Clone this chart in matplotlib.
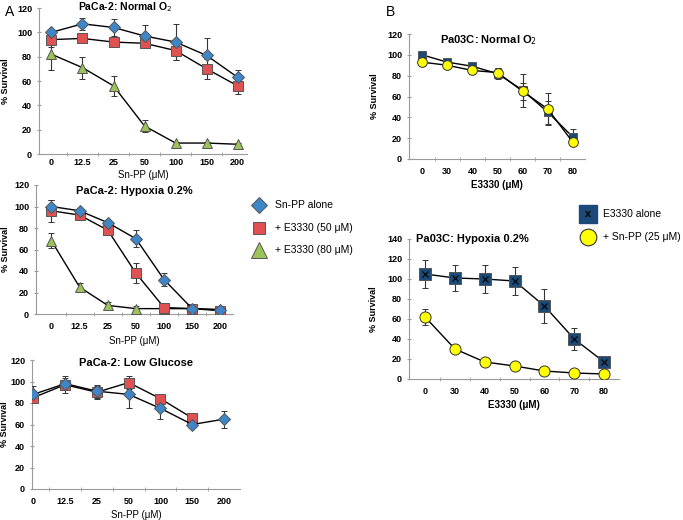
import matplotlib
matplotlib.use("Agg")
import matplotlib.pyplot as plt
import numpy as np

plt.rcParams['font.family'] = ['Liberation Sans', 'DejaVu Sans']

snpp_labels = ["0", "12.5", "25", "50", "100", "150", "200"]
e3330_labels = ["0", "30", "40", "50", "60", "70", "80"]

# PaCa-2 Normal O2
a1_snpp = [100, 107, 104, 97, 92, 81, 63]
a1_snpp_err = [2, 5, 7, 9, 15, 14, 6]
a1_e50 = [94, 95, 92, 91, 85, 70, 56]
a1_e50_err = [6, 2, 2, 2, 8, 8, 7]
a1_e80 = [82, 71, 56, 23, 9, 9, 8]
a1_e80_err = [13, 9, 8, 5, 1, 1, 1]

# PaCa-2 Hypoxia
a2_snpp = [100, 96, 85, 70, 32, 5, 4]
a2_snpp_err = [6, 2, 2, 8, 6, 1, 1]
a2_e50 = [96, 92, 78, 38, 6, 5, 3]
a2_e50_err = [10, 3, 3, 9, 2, 1, 1]
a2_e80 = [68, 25, 8, 5, 5, 5, 4]
a2_e80_err = [7, 4, 3, 2, 1, 1, 1]

# PaCa-2 Low glucose
a3_snpp = [88, 98, 91, 88, 75, 60, 65]
a3_snpp_err = [8, 5, 6, 13, 10, 2, 8]
a3_e50 = [85, 97, 90, 99, 84, 66, np.nan]
a3_e50_err = [5, 8, 6, 6, 2, 2, 0]

# Pa03C Normal O2
b1_e = [100, 93, 89, 82, 66, 45, 21]
b1_e_err = [2, 2, 3, 5, 16, 11, 8]
b1_s = [93, 90, 85, 83, 65, 48, 16]
b1_s_err = [4, 3, 3, 4, 8, 15, 3]

# Pa03C Hypoxia
b2_e = [105, 101, 100, 98, 73, 40, 17]
b2_e_err = [14, 13, 14, 14, 17, 11, 3]
b2_s = [62, 30, 17, 13, 8, 6, 5]
b2_s_err = [8, 2, 1, 2, 1, 1, 1]

W, H = 683, 520
fig = plt.figure(figsize=(W / 100, H / 100), dpi=100)

def make_ax(left, right, top, bottom):
    return fig.add_axes([left / W, 1 - bottom / H, (right - left) / W, (bottom - top) / H])

BLUE = '#3f86c8'
RED = '#e05151'
GREEN = '#9cc35a'
NAVY = '#1b4a78'
YEL = '#ffff00'
AXC = '#9a9a9a'

def style(ax, labels, xlim, ylim, ystep, xlabel=None, title=None, title_y=None, xpad=6):
    x = np.arange(len(labels))
    ax.set_xlim(*xlim)
    ax.set_ylim(*ylim)
    ax.set_xticks(x)
    ax.set_xticklabels(labels, fontsize=6.5, fontweight='bold')
    ax.set_xticks(np.arange(len(labels) - 1) + 0.5, minor=True)
    ax.set_yticks(np.arange(ylim[0], ylim[1] + 1, ystep))
    ax.tick_params(axis='y', labelsize=6.5, length=3, color=AXC, direction='inout')
    for lab in ax.get_yticklabels():
        lab.set_fontweight('bold')
    ax.tick_params(axis='x', which='major', length=0, pad=xpad)
    ax.tick_params(axis='x', which='minor', length=3, color=AXC, direction='inout')
    for s in ['top', 'right']:
        ax.spines[s].set_visible(False)
    for s in ['left', 'bottom']:
        ax.spines[s].set_color(AXC)
        ax.spines[s].set_linewidth(0.8)
    ax.set_ylabel('% Survival', fontsize=6.5, fontweight='bold', labelpad=4)
    if xlabel:
        ax.set_xlabel(xlabel[0], fontsize=7, fontweight=xlabel[1], labelpad=3)
    if title:
        ax.text(0.5, title_y, title, transform=ax.transAxes, ha='center', va='center',
                fontsize=8, fontweight='bold')
    ax.patch.set_alpha(0)

def series(ax, y, err, marker, color, ms, mec='#555555'):
    x = np.arange(len(y))
    ax.errorbar(x, y, yerr=err, color='black', lw=1.0, ecolor='#333333', elinewidth=0.8,
                capsize=2, capthick=0.8, marker=marker, ms=ms, mfc=color, mec=mec, mew=0.7,
                zorder=3)

# A1
ax1 = make_ax(39, 247, 8, 154)
series(ax1, a1_e80, a1_e80_err, '^', GREEN, 7)
series(ax1, a1_e50, a1_e50_err, 's', RED, 7)
series(ax1, a1_snpp, a1_snpp_err, 'D', BLUE, 6)
style(ax1, snpp_labels, (-0.4, 6.3), (0, 120), 20, xpad=3)
fig.text(125 / W, 1 - 7 / H, 'PaCa-2: Normal O$_2$', ha='center', va='center',
         fontsize=7.5, fontweight='bold')
fig.text(143 / W, 1 - 175 / H, 'Sn-PP (μM)', ha='center', va='center', fontsize=7)
ax1.yaxis.set_label_coords(-0.14, 0.5)

# A2
ax2 = make_ax(36, 233, 185, 314)
series(ax2, a2_e80, a2_e80_err, '^', GREEN, 7)
series(ax2, a2_e50, a2_e50_err, 's', RED, 7)
series(ax2, a2_snpp, a2_snpp_err, 'D', BLUE, 6)
style(ax2, snpp_labels, (-0.55, 6.45), (0, 120), 20, xlabel=('Sn-PP (μM)', 'normal'),
      title='PaCa-2: Hypoxia 0.2%', title_y=0.95)
ax2.yaxis.set_label_coords(-0.13, 0.5)

# A3
ax3 = make_ax(32, 240, 360, 489)
series(ax3, a3_e50, a3_e50_err, 's', RED, 7)
series(ax3, a3_snpp, a3_snpp_err, 'D', BLUE, 6)
style(ax3, snpp_labels, (-0.04, 6.5), (0, 120), 20, xlabel=('Sn-PP (μM)', 'normal'),
      title='PaCa-2: Low Glucose', title_y=0.98)
ax3.yaxis.set_label_coords(-0.11, 0.5)

# B1
ax4 = make_ax(409, 585, 34, 159)
series(ax4, b1_e, b1_e_err, 's', NAVY, 6)
series(ax4, b1_s, b1_s_err, 'o', YEL, 7, mec='#333333')
style(ax4, e3330_labels, (-0.52, 6.48), (0, 120), 20, xlabel=('E3330 (μM)', 'bold'))
ax4.text(0.45, 0.95, 'Pa03C: Normal O$_2$', transform=ax4.transAxes, ha='center', va='center',
         fontsize=8, fontweight='bold')
ax4.yaxis.set_label_coords(-0.17, 0.5)

# B2
ax5 = make_ax(409, 619, 239, 379)
series(ax5, b2_e, b2_e_err, 's', NAVY, 8)
ax5.plot(np.arange(len(b2_e)), b2_e, ls='none', marker='x', ms=4, mec='black', mew=0.8, zorder=4)
series(ax5, b2_s, b2_s_err, 'o', YEL, 8, mec='#333333')
style(ax5, e3330_labels, (-0.54, 6.5), (0, 140), 20, xlabel=('E3330 (μM)', 'bold'))
ax5.text(0.3, 1.0, 'Pa03C: Hypoxia 0.2%', transform=ax5.transAxes, ha='center', va='center',
         fontsize=8, fontweight='bold')
ax5.yaxis.set_label_coords(-0.15, 0.5)

# Legend A
lx, tx = 259 / W, 275 / W
for yy, mk, col, ms, txt in [(205, 'D', BLUE, 8, 'Sn-PP alone'),
                             (228, 's', RED, 9, '+ E3330 (50 μM)'),
                             (250, '^', GREEN, 11, '+ E3330 (80 μM)')]:
    fig.lines.append(matplotlib.lines.Line2D([lx], [1 - yy / H], marker=mk, ms=ms, mfc=col,
                                             mec='#555555', mew=0.7, ls='none',
                                             transform=fig.transFigure))
    fig.text(tx, 1 - yy / H, txt, fontsize=7.5, va='center', ha='left')

# Legend B
bx, btx = 588 / W, 603 / W
fig.lines.append(matplotlib.lines.Line2D([bx], [1 - 214 / H], marker='s', ms=13, mfc=NAVY,
                                         mec=NAVY, ls='none', transform=fig.transFigure))
fig.text(bx, 1 - 214 / H, 'x', fontsize=8, fontweight='bold', ha='center', va='center')
fig.text(btx, 1 - 214 / H, 'E3330 alone', fontsize=7.5, va='center', ha='left')
fig.lines.append(matplotlib.lines.Line2D([bx], [1 - 237 / H], marker='o', ms=12, mfc=YEL,
                                         mec='#333333', mew=0.8, ls='none',
                                         transform=fig.transFigure))
fig.text(btx, 1 - 237 / H, '+ Sn-PP (25 μM)', fontsize=7.5, va='center', ha='left')

fig.text(5 / W, 1 - 12 / H, 'A', fontsize=10, va='center', ha='left')
fig.text(386 / W, 1 - 12 / H, 'B', fontsize=10, va='center', ha='left')

fig.savefig('out.png', dpi=100)
